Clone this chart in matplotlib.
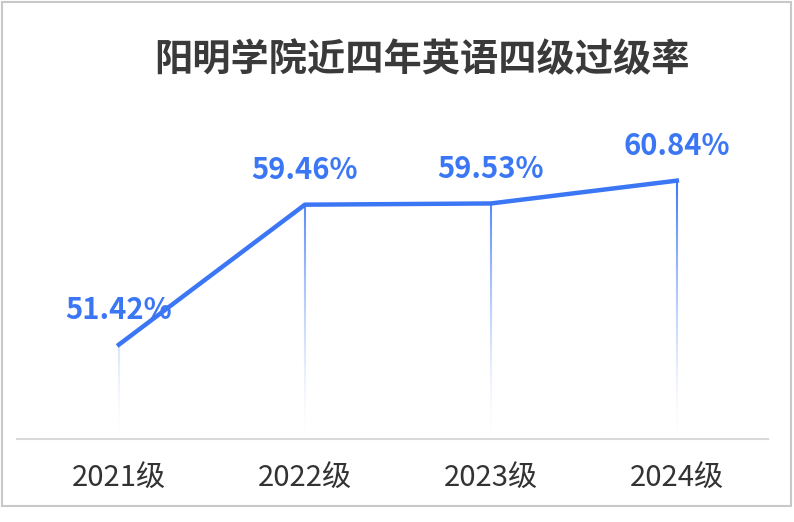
import numpy as np
import matplotlib
matplotlib.use("Agg")
import matplotlib.pyplot as plt
from matplotlib.collections import LineCollection
from matplotlib.patches import Rectangle

plt.rcParams["font.family"] = ["Noto Sans CJK SC", "DejaVu Sans"]

# Data
categories = ["2021级", "2022级", "2023级", "2024级"]
pass_rate = [51.42, 59.46, 59.53, 60.84]
title = "阳明学院近四年英语四级过级率"

BLUE = "#3b76f5"
DARK = "#333333"
YMIN, YMAX = 46.0, 66.0

fig = plt.figure(figsize=(7.94, 5.22), dpi=100)
ax = fig.add_axes([0.0214, 0.159, 0.9458, 0.667])

x = np.arange(len(categories))

# gradient drop lines from each point to the baseline
for xi, yi in zip(x, pass_rate):
    ys = np.linspace(YMIN, yi, 80)
    segs = [[(xi, ys[k]), (xi, ys[k + 1])] for k in range(len(ys) - 1)]
    mids = (ys[:-1] + ys[1:]) / 2
    alpha = np.clip((mids - YMIN) / (max(pass_rate) - YMIN), 0, 1) ** 1.6
    cols = np.zeros((len(mids), 4))
    cols[:, :3] = matplotlib.colors.to_rgb(BLUE)
    cols[:, 3] = alpha
    ax.add_collection(LineCollection(segs, colors=cols, linewidths=1.5, zorder=2))

ax.plot(x, pass_rate, color=BLUE, linewidth=3.2, solid_joinstyle="miter", zorder=3)

for xi, yi in zip(x, pass_rate):
    ax.text(xi, yi + 2.0, f"{yi:.2f}%", ha="center", va="center",
            fontsize=21, fontweight="bold", color=BLUE, zorder=4)

ax.set_xlim(-0.548, 3.49)
ax.set_ylim(YMIN, YMAX)
for s in ["top", "right", "left"]:
    ax.spines[s].set_visible(False)
ax.spines["bottom"].set_color("#d9d9d9")
ax.spines["bottom"].set_linewidth(1.5)
ax.set_yticks([])
ax.set_xticks(x)
ax.set_xticklabels(categories, fontsize=21, color=DARK)
ax.tick_params(axis="x", length=0, pad=18)

fig.text(0.532, 0.885, title, ha="center", va="center",
         fontsize=27.5, fontweight="heavy", color="#3a3a3a")

# outer frame
fig.patches.append(Rectangle((0.002, 0.03), 0.994, 0.966, transform=fig.transFigure,
                             fill=False, edgecolor="#c8c8c8", linewidth=1.5))

fig.savefig("out.png", dpi=100)
